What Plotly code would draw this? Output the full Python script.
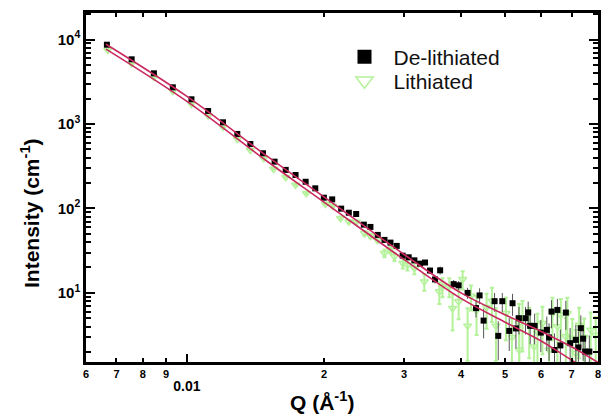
import plotly.graph_objects as go

# ---------------- data ----------------
q_delith = [0.00667, 0.00756, 0.00846, 0.00931, 0.01023, 0.01113, 0.0120, 0.0129, 0.01378, 0.01469,
            0.01558, 0.01648, 0.01732, 0.01823, 0.01914, 0.01999, 0.02085, 0.02182, 0.02268, 0.02354,
            0.02447, 0.0253, 0.02625, 0.02716, 0.0280, 0.0289, 0.02978, 0.0307, 0.0316, 0.03252,
            0.03335, 0.0342, 0.03507, 0.0360, 0.03854, 0.03953, 0.04136, 0.04316, 0.04395, 0.04485,
            0.04741, 0.0483, 0.0493, 0.05106, 0.05192, 0.05282, 0.05363, 0.05544, 0.0562, 0.05676,
            0.05806, 0.0599, 0.06175, 0.06246, 0.06325, 0.0642, 0.06514, 0.06614, 0.0680, 0.06948,
            0.07151, 0.07243, 0.07334, 0.0742, 0.07496, 0.07657]
i_delith = [8680, 5830, 3980, 2718, 1960, 1426, 1047, 762, 580, 450,
            358, 286, 249, 207, 173, 134, 128, 99.5, 89, 86,
            64.3, 60.4, 48.6, 42.4, 39.4, 36, 27.6, 26.4, 24.3, 22.2,
            22.9, 18.4, 14.45, 18.5, 12.7, 12.3, 10.0, 6.61, 9.34, 4.7,
            7.98, 3.10, 7.98, 3.55, 7.55, 3.80, 5.02, 5.02, 5.88, 4.07,
            4.07, 3.39, 3.65, 2.97, 6.01, 2.11, 6.29, 2.39, 5.85, 2.54,
            2.78, 2.26, 3.82, 2.87, 2.02, 2.02]
e_delith = [30, 20, 14, 10, 7, 5, 4, 3, 2.5, 2,
            2, 1.5, 1.5, 1.2, 1.2, 1, 1, 1, 1, 1,
            1, 1, 1, 1, 1, 1, 1, 1, 1, 1,
            1.5, 1.5, 1.5, 2, 1.5, 1.5, 1.5, 1.5, 2, 1.8,
            2, 1.5, 2, 1.5, 2.2, 1.6, 1.8, 1.8, 2, 1.6,
            1.6, 1.4, 1.6, 1.4, 2.2, 1.2, 2.2, 1.3, 2.2, 1.3,
            1.4, 1.2, 1.6, 1.3, 1.1, 1.1]

q_lith = [0.0067, 0.00756, 0.00846, 0.00931, 0.01023, 0.01113, 0.0120, 0.0129, 0.01378, 0.01475,
          0.0155, 0.01648, 0.01732, 0.01829, 0.02015, 0.02089, 0.02175, 0.02268, 0.02357, 0.02455,
          0.0253, 0.02622, 0.02716, 0.0280, 0.02857, 0.02981, 0.0305, 0.0316, 0.03323, 0.03585,
          0.03642, 0.0377, 0.03834, 0.03953, 0.04034, 0.04136, 0.04208, 0.04328, 0.04553, 0.04678,
          0.04774, 0.05022, 0.05176, 0.0537, 0.0537, 0.0546, 0.05648, 0.05791, 0.05889, 0.0604,
          0.06246, 0.06354, 0.06514, 0.0663, 0.0680, 0.06852, 0.07026, 0.07151, 0.07272, 0.07458,
          0.0771, 0.07908]
i_lith = [7510, 5200, 3600, 2460, 1725, 1262, 921, 664, 492, 393,
          293, 234, 190, 151, 113, 107, 76.6, 69.8, 69.2, 50.9,
          47.3, 42.4, 29.5, 32.3, 26.9, 22.5, 21.4, 19.6, 13.6, 10.4,
          11.9, 11.9, 6.59, 7.89, 14.5, 4.07, 9.21, 6.18, 6.77, 8.04,
          4.07, 5.75, 2.99, 4.38, 2.11, 5.02, 4.18, 2.31, 3.48, 4.38,
          2.11, 5.75, 3.99, 5.49, 3.04, 5.75, 2.91, 1.93, 4.18, 2.99,
          3.65, 3.18]
e_lith = [40, 28, 20, 14, 10, 7, 5, 4, 3.5, 3,
          3, 2.5, 2.5, 2, 2, 2, 3, 3, 3, 3,
          3, 3, 3, 3, 3, 3, 3, 3, 3, 3,
          3, 3, 3, 3, 3.5, 2.5, 3, 3, 3, 3.5,
          2.5, 3, 2, 3, 1.8, 3, 2.5, 1.8, 2.2, 2.5,
          1.8, 3, 2.5, 3, 2, 3, 2, 1.7, 2.5, 2,
          2.2, 2]

q_fit = [0.00664, 0.01, 0.015, 0.02, 0.03, 0.04, 0.05, 0.06, 0.07, 0.08]
i_fit_delith = [8800, 2123, 416, 137, 28.5, 10.0, 5.5, 3.5, 2.3, 1.5]
i_fit_lith = [7700, 1850, 362, 119, 24.8, 8.6, 4.5, 2.7, 1.6, 1.05]

x_tick_vals = [0.006, 0.007, 0.008, 0.009, 0.02, 0.03, 0.04, 0.05, 0.06, 0.07, 0.08]
x_tick_text = ["6", "7", "8", "9", "2", "3", "4", "5", "6", "7", "8"]
y_tick_vals = [10, 100, 1000, 10000]
y_tick_text = ["10<sup>1</sup>", "10<sup>2</sup>", "10<sup>3</sup>", "10<sup>4</sup>"]

# ---------------- figure ----------------
FONT = "Liberation Sans, Arial, sans-serif"
GREEN = "#b4f29a"
FIT = "#c9295f"

fig = go.Figure()

fig.add_trace(go.Scatter(
    x=q_lith, y=i_lith, mode="markers", showlegend=False,
    marker=dict(symbol="triangle-down-open", size=7, color=GREEN, line=dict(width=1.5, color=GREEN)),
    error_y=dict(type="data", array=e_lith, color=GREEN, thickness=2, width=2),
))
fig.add_trace(go.Scatter(
    x=q_delith, y=i_delith, mode="markers", showlegend=False,
    marker=dict(symbol="square", size=6, color="black"),
    error_y=dict(type="data", array=e_delith, color="#555555", thickness=1, width=0),
))
fig.add_trace(go.Scatter(x=q_fit, y=i_fit_delith, mode="lines", showlegend=False,
                         line=dict(color=FIT, width=1.6, shape="spline")))
fig.add_trace(go.Scatter(x=q_fit, y=i_fit_lith, mode="lines", showlegend=False,
                         line=dict(color=FIT, width=1.6, shape="spline")))

# legend entries (one legend each, so they can be placed precisely)
fig.add_trace(go.Scatter(x=[None], y=[None], mode="markers", name="De-lithiated", legend="legend",
                         marker=dict(symbol="square", size=14, color="black")))
fig.add_trace(go.Scatter(x=[None], y=[None], mode="markers", name="Lithiated", legend="legend2",
                         marker=dict(symbol="triangle-down-open", size=15, color=GREEN,
                                     line=dict(width=1.5, color=GREEN))))

leg_common = dict(xanchor="left", yanchor="middle", itemwidth=48,
                  font=dict(size=21, family=FONT, color="#111111"),
                  bgcolor="rgba(0,0,0,0)")

xr = [-2.2218, -1.0969]
PW = 512
fig.update_layout(
    width=601, height=415,
    margin=dict(l=86, r=3, t=13, b=53, autoexpand=False),
    paper_bgcolor="white", plot_bgcolor="white",
    font=dict(family=FONT, color="black"),
    legend=dict(x=(335.5 - 86) / PW, y=1 - (57 - 13) / 349, **leg_common),
    legend2=dict(x=(335.5 - 86) / PW, y=1 - (81 - 13) / 349, **leg_common),
    xaxis=dict(type="log", range=xr, showgrid=False, zeroline=False, automargin=False,
               showline=True, linewidth=2.5, linecolor="black", mirror="all",
               ticks="inside", ticklen=4, tickwidth=2, tickcolor="black",
               tickvals=x_tick_vals, ticktext=x_tick_text, ticklabeloverflow="allow",
               tickfont=dict(size=11, family=FONT, weight="bold")),
    xaxis2=dict(type="log", range=xr, overlaying="x", anchor="y", side="bottom", automargin=False,
                showgrid=False, zeroline=False, showline=False,
                ticks="inside", ticklen=8, tickwidth=2, tickcolor="black",
                tickvals=[0.01], ticktext=["0.01"], ticklabelstandoff=14,
                tickfont=dict(size=14, family=FONT, weight="bold")),
    yaxis=dict(type="log", range=[0.182, 4.314], showgrid=False, zeroline=False, automargin=False,
               showline=True, linewidth=2.5, linecolor="black", mirror="all",
               ticks="inside", ticklen=9, tickwidth=2, tickcolor="black",
               tickvals=y_tick_vals, ticktext=y_tick_text,
               tickfont=dict(size=15, family=FONT, weight="bold"),
               minor=dict(ticks="inside", ticklen=5, tickwidth=1.5, tickcolor="black",
                          tickvals=[m * 10 ** k for k in range(0, 5) for m in range(2, 10)])),
    annotations=[
        dict(text="<b>Intensity (cm<sup>-1</sup>)</b>", textangle=-90, showarrow=False,
             xref="paper", yref="paper", x=(30 - 86) / PW, y=1 - (213 - 13) / 349,
             xanchor="center", yanchor="middle", font=dict(size=21, family=FONT, color="black")),
        dict(text="<b>Q (Å<sup>-1</sup>)</b>", showarrow=False,
             xref="paper", yref="paper", x=(322 - 86) / PW, y=-(401 - 362) / 349,
             xanchor="center", yanchor="middle", font=dict(size=21, family=FONT, color="black")),
    ],
)
# dummy trace to activate xaxis2
fig.add_trace(go.Scatter(x=[0.01], y=[None], xaxis="x2", showlegend=False, hoverinfo="skip"))

fig.write_html("out.html", config={"displayModeBar": False},
               post_script="document.body.style.margin='0px';document.body.style.overflow='hidden';")
